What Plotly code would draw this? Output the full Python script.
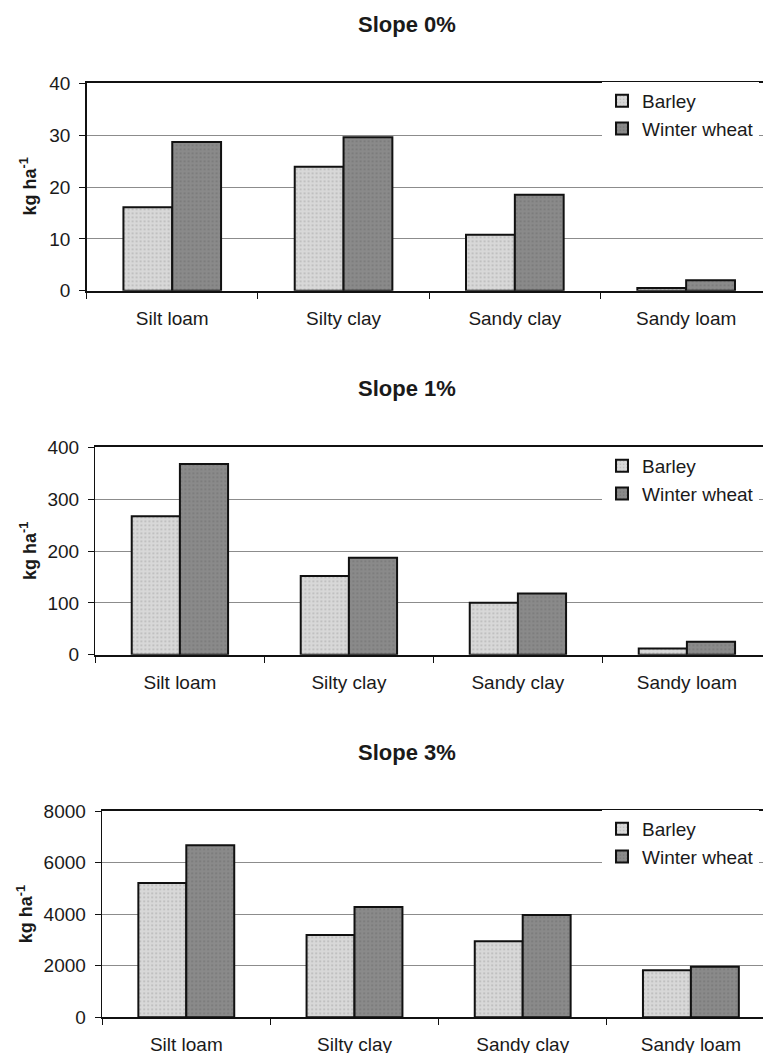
import plotly.graph_objects as go

categories = ["Silt loam", "Silty clay", "Sandy clay", "Sandy loam"]
series_names = ["Barley", "Winter wheat"]
panel_titles = ["Slope 0%", "Slope 1%", "Slope 3%"]

slope0_barley = [16.1, 23.9, 10.8, 0.5]
slope0_wheat = [28.7, 29.6, 18.5, 2.0]
slope1_barley = [267, 152, 100, 12]
slope1_wheat = [368, 187, 118, 25]
slope3_barley = [5215, 3195, 2950, 1825]
slope3_wheat = [6680, 4280, 3970, 1965]

y_ranges = [[0, 40], [0, 400], [0, 8000]]
y_dticks = [10, 100, 2000]

W, H = 763, 1053
FONT = "Liberation Sans, Arial, sans-serif"
TXT = "#1a1a1a"
colors = ["#d8d8d8", "#8a8a8a"]

# layout geometry (pixels)
panels = [
    dict(left=86.6, top=83.3, bottom=290.7, catw=171.3, ytitle_x=29.5, leg_top=82),
    dict(left=95.4, top=447.3, bottom=654.7, catw=169.0, ytitle_x=28.0, leg_top=447),
    dict(left=102.2, top=811.3, bottom=1017.3, catw=168.2, ytitle_x=25.0, leg_top=810),
]

data = [
    (slope0_barley, slope0_wheat),
    (slope1_barley, slope1_wheat),
    (slope3_barley, slope3_wheat),
]

fig = go.Figure()
layout = dict(
    width=W, height=H, autosize=False,
    margin=dict(l=0, r=0, t=0, b=0, autoexpand=False),
    paper_bgcolor="white", plot_bgcolor="white",
    barmode="group", bargap=0.43, bargroupgap=0.0,
    font=dict(family=FONT, size=19, color=TXT),
    annotations=[],
)

for i, (p, (barley, wheat)) in enumerate(zip(panels, data)):
    sfx = "" if i == 0 else str(i + 1)
    xa, ya = "x" + sfx, "y" + sfx
    leg = "legend" + sfx
    for name, vals, col in zip(series_names, [barley, wheat], colors):
        fig.add_trace(go.Bar(
            x=categories, y=vals, name=name,
            xaxis=xa, yaxis=ya, legend=leg,
            marker=dict(color=col, line=dict(color="#111111", width=2),
                        pattern=dict(shape=".", size=4, solidity=0.15,
                                     fgcolor="#808080" if col == colors[0] else "#555555",
                                     bgcolor=col, fillmode="overlay")),
            offsetgroup=name,
        ))
    right_edge = -0.5 + (W - p["left"]) / p["catw"]
    layout["xaxis" + sfx] = dict(
        domain=[p["left"] / W, 1.0], anchor=ya, automargin=False,
        type="category", range=[-0.5, right_edge],
        showline=True, linecolor="#111111", linewidth=2, mirror=True,
        ticks="outside", tickson="boundaries", ticklen=6, tickcolor="#111111",
        tickwidth=1, ticklabelstandoff=9,
        tickfont=dict(family=FONT, size=19, color=TXT),
        showgrid=False, zeroline=False,
    )
    layout["yaxis" + sfx] = dict(
        domain=[1 - p["bottom"] / H, 1 - p["top"] / H], anchor=xa, automargin=False,
        range=y_ranges[i], dtick=y_dticks[i],
        showline=True, linecolor="#111111", linewidth=1.5, mirror=False,
        ticks="outside", ticklen=6, tickcolor="#111111", tickwidth=1,
        ticklabelstandoff=5,
        tickfont=dict(family=FONT, size=19, color=TXT),
        showgrid=True, gridcolor="#8c8c8c", gridwidth=1, zeroline=False,
    )
    layout[leg] = dict(
        x=602 / W, xanchor="left",
        y=1 - p["leg_top"] / H, yanchor="top",
        bgcolor="white", borderwidth=0,
        font=dict(family=FONT, size=19, color=TXT),
        traceorder="normal", itemclick=False,
    )
    layout["annotations"].append(dict(
        text="<b>" + panel_titles[i] + "</b>", xref="paper", yref="paper",
        x=406.5 / W, y=1 - (p["top"] - 59) / H, xanchor="center", yanchor="middle",
        showarrow=False, font=dict(family=FONT, size=22, color=TXT),
    ))
    layout["annotations"].append(dict(
        text="<b>kg ha<sup>-1</sup></b>", xref="paper", yref="paper",
        x=p["ytitle_x"] / W, y=1 - (p["top"] + p["bottom"]) / 2 / H,
        xanchor="center", yanchor="middle", textangle=-90,
        showarrow=False, font=dict(family=FONT, size=18, color=TXT),
    ))

fig.update_layout(**layout)
fig.write_html(
    "out.html",
    config={"displayModeBar": False, "staticPlot": True},
    post_script=(
        "document.documentElement.style.margin='0';"
        "document.documentElement.style.overflow='hidden';"
        "document.body.style.margin='0';document.body.style.padding='0';"
        "document.body.style.overflow='hidden';"
        "var gd=document.getElementById('{plot_id}');"
        "gd.style.position='fixed';gd.style.left='0px';gd.style.top='0px';"
    ),
)
